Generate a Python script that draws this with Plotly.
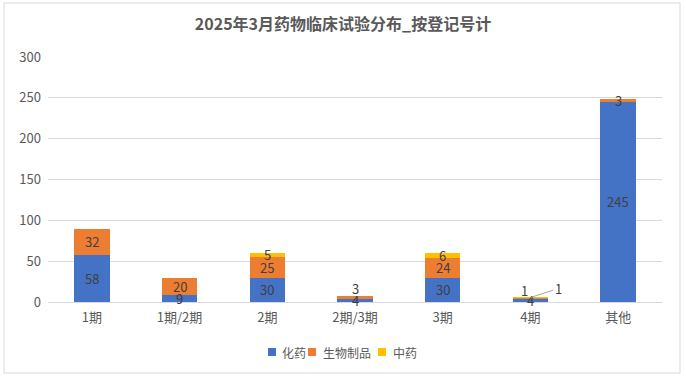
import plotly.graph_objects as go

categories = ["1期", "1期/2期", "2期", "2期/3期", "3期", "4期", "其他"]
chem = [58, 9, 30, 4, 30, 4, 245]
bio = [32, 20, 25, 3, 24, 1, 3]
tcm = [0, 0, 5, 0, 6, 1, 0]
series_names = ["化药", "生物制品", "中药"]
colors = ["#4472C4", "#ED7D31", "#FFC000"]

FONT = "Noto Sans CJK SC"
W, H = 686, 378
L, R, T, B = 48, 24, 57, 76
PW, PH = W - L - R, H - T - B


def px(x):
    return (x - L) / PW


def py(y):
    return (H - B - y) / PH


fig = go.Figure()
for name, vals, col in zip(series_names, [chem, bio, tcm], colors):
    fig.add_trace(go.Bar(x=categories, y=vals, name=name, marker_color=col,
                         marker_line_width=0, hoverinfo="skip", showlegend=False))

# data labels
ann = []
base = [0] * len(categories)
for si, vals in enumerate([chem, bio, tcm]):
    for i, v in enumerate(vals):
        if v > 0:
            mid = base[i] + v / 2
            a = dict(x=categories[i], y=mid, text=str(v), showarrow=False,
                     font=dict(family=FONT, size=13, color="#404040"))
            cat = categories[i]
            if cat == "2期/3期" and si == 1:
                a["yshift"] = 9
            if cat == "4期" and si == 1:
                a["yshift"] = 8
                a["xshift"] = -6
            if cat == "4期" and si == 2:
                a.update(showarrow=True, ax=28, ay=-9, arrowhead=0,
                         arrowcolor="#A6A6A6", arrowwidth=1, standoff=0)
            if cat == "2期" and si == 2:
                a["yshift"] = 1
            ann.append(a)
        base[i] += v

# legend (compact, Excel style)
shapes = []
leg_sq_x = [268, 308, 378]
leg_tx_x = [280, 321, 391]
leg_y = 352
for name, col, sx, tx in zip(series_names, colors, leg_sq_x, leg_tx_x):
    shapes.append(dict(type="rect", xref="paper", yref="paper",
                       x0=px(sx), x1=px(sx + 8), y0=py(leg_y + 4), y1=py(leg_y - 4),
                       fillcolor=col, line=dict(width=0)))
    ann.append(dict(xref="paper", yref="paper", x=px(tx), y=py(leg_y), xanchor="left",
                    yanchor="middle", text=name, showarrow=False,
                    font=dict(family=FONT, size=12, color="#595959")))

shapes.append(dict(type="rect", xref="paper", yref="paper",
                   x0=px(4), x1=px(680), y0=py(373), y1=py(3),
                   line=dict(color="#D9D9D9", width=1)))

fig.update_layout(
    width=W, height=H,
    margin=dict(l=L, r=R, t=T, b=B, autoexpand=False),
    paper_bgcolor="white", plot_bgcolor="white",
    barmode="stack", bargap=0.595,
    title=dict(text="<b>2025年3月药物临床试验分布_按登记号计</b>", x=0.5, xanchor="center",
               yref="container", y=1 - 24 / H, yanchor="middle",
               font=dict(family=FONT, size=16, color="#595959")),
    font=dict(family=FONT, size=12, color="#595959"),
    showlegend=False,
    xaxis=dict(showgrid=False, showline=True, linecolor="#D9D9D9", linewidth=1,
               ticks="", automargin=False, ticklabelstandoff=3,
               tickfont=dict(family=FONT, size=13, color="#595959")),
    yaxis=dict(range=[0, 300], dtick=50, showgrid=True, gridcolor="#D9D9D9",
               gridwidth=1, zeroline=False, ticks="", automargin=False,
               ticklabelstandoff=6,
               tickfont=dict(family=FONT, size=13, color="#595959")),
    annotations=ann,
    shapes=shapes,
)
fig.write_html("out.html", config={"displayModeBar": False},
               post_script="document.body.style.margin='0px';")
